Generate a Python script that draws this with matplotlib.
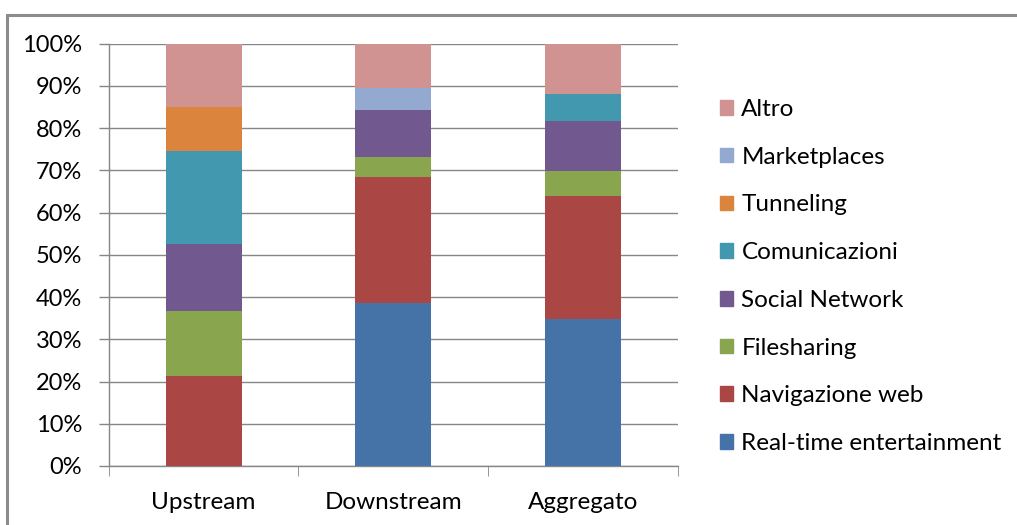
import numpy as np
import matplotlib.pyplot as plt
from matplotlib.patches import Rectangle, Patch

plt.rcParams['font.family'] = ['Lato', 'DejaVu Sans']

# traffic share per direction (%), bottom to top
cats = ["Upstream", "Downstream", "Aggregato"]
series = ["Real-time entertainment", "Navigazione web", "Filesharing",
          "Social Network", "Comunicazioni", "Tunneling", "Marketplaces", "Altro"]
realtime = [0.0, 38.7, 34.7]
navigazione = [21.3, 29.8, 29.2]
filesharing = [15.5, 4.7, 5.9]
social = [15.8, 11.2, 12.0]
comunicazioni = [22.1, 0.0, 6.4]
tunneling = [10.3, 0.0, 0.0]
marketplaces = [0.0, 5.1, 0.0]
altro = [15.0, 10.5, 11.8]
colors = ["#4572A7", "#AA4643", "#89A54E", "#71588F",
          "#4198AF", "#DB843D", "#93A9CF", "#D19392"]

vals = [realtime, navigazione, filesharing, social,
        comunicazioni, tunneling, marketplaces, altro]

fig = plt.figure(figsize=(10.17, 5.25), dpi=100)
W, H = 1017, 525
ax = fig.add_axes([108.7 / W, 1 - 466 / H, (678 - 108.7) / W, (466 - 43.7) / H])

x = np.arange(len(cats))
bottom = np.zeros(len(cats))
for v, c, name in zip(vals, colors, series):
    v = np.array(v)
    ax.bar(x, v, 0.4, bottom=bottom, color=c, label=name, zorder=3, linewidth=0)
    bottom += v

gray = "#868686"
ax.set_xlim(-0.5, 2.5)
ax.set_ylim(0, 100)
ax.set_yticks(np.arange(0, 101, 10))
ax.set_yticklabels([f"{t}%" for t in range(0, 101, 10)])
ax.yaxis.grid(True, color=gray, linewidth=1.0, zorder=0)
ax.set_xticks(x)
ax.set_xticklabels(cats)
ax.set_xticks([-0.5, 0.5, 1.5, 2.5], minor=True)
ax.tick_params(axis='x', which='major', length=0, pad=19, labelsize=17.5, colors='black')
ax.tick_params(axis='x', which='minor', length=7, color=gray, direction='out')
ax.tick_params(axis='y', length=7, color=gray, width=1, labelsize=17, pad=12)
for s in ["top", "right"]:
    ax.spines[s].set_visible(False)
for s in ["left", "bottom"]:
    ax.spines[s].set_color(gray)
    ax.spines[s].set_linewidth(1.0)

handles = [Patch(color=c, label=n) for c, n in zip(colors, series)][::-1]
fig.legend(handles=handles, loc='upper left', bbox_to_anchor=(720 / W, 1 - 99 / H),
           frameon=False, fontsize=17.5, handlelength=0.55, handleheight=0.55,
           handletextpad=0.33, labelspacing=1.1, borderpad=0, borderaxespad=0)

# outer chart frame
fig.add_artist(Rectangle((7 / W, -0.1), 1.2, 1 - 15 / H + 0.1, transform=fig.transFigure,
                         fill=False, edgecolor="#8C8C8C", linewidth=2.2))

fig.savefig("out.png", dpi=100)
